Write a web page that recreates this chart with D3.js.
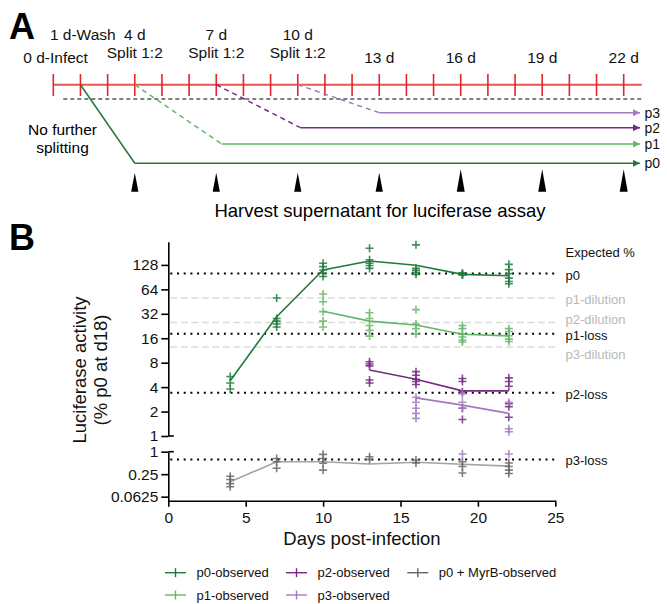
<!DOCTYPE html>
<html><head><meta charset="utf-8">
<script src="https://cdn.jsdelivr.net/npm/d3@7"></script>
<style>body{margin:0;background:#fff}svg text{font-family:"Liberation Sans",Arial,Helvetica,sans-serif}</style>
</head><body><svg id="c" width="667" height="604"></svg>
<script>
// ---------------- DATA ----------------
const days = [4, 7, 10, 13, 16, 19, 22];
const p0Reps = [[5.4, 4.5, 3.8], [50, 28, 26, 24, 22], [134, 122, 111, 101, 92], [205, 148, 134, 126, 116], [226, 116, 110, 104, 98], [102, 99, 97, 96], [130, 112, 100, 88, 80, 75]];
const p0Mean = [4.8, 29.4, 111, 143, 127, 98, 94];
const p1Days = [10, 13, 16, 19, 22];
const p1Reps = [[56, 45, 34, 26, 22], [33, 28, 23, 20, 17], [36, 24, 21, 18], [23, 21, 18, 16.6, 15.2, 14.4], [21, 19.4, 17.2, 15.6, 14.6]];
const p1Mean = [34.4, 26, 23.3, 17.9, 17.1];
const p2Days = [13, 16, 19, 22];
const p2Reps = [[8.2, 7.7, 7.3, 4.9, 4.5], [6.2, 5.6, 5.0, 4.7, 4.3], [5.1, 4.7, 3.5, 2.2, 1.6], [5.2, 4.7, 4.1, 2.5, 2.3, 1.7]];
const p2Mean = [6.5, 5.0, 3.6, 3.6];
const p3Days = [16, 19, 22];
const p3Reps = [[3.0, 2.6, 2.2, 1.9, 1.65], [3.3, 2.6, 2.2, 0.87], [2.6, 1.23, 1.13, 0.87]];
const p3Mean = [2.95, 2.4, 1.9];
const myrbReps = [[0.22, 0.18, 0.14, 0.115], [0.66, 0.54, 0.36], [0.85, 0.66, 0.49, 0.32], [0.73, 0.62], [0.6, 0.5], [0.54, 0.40, 0.27], [0.5, 0.4, 0.32, 0.26]];
const myrbMean = [0.156, 0.54, 0.54, 0.47, 0.52, 0.46, 0.41];

const expectedLabels = ["p0", "p1-dilution", "p2-dilution", "p1-loss", "p3-dilution", "p2-loss", "p3-loss"];
const expectedValues = [100, 50, 25, 18.2, 12.5, 3.4, 0.62];
const expectedKinds = ["loss", "dilution", "dilution", "loss", "dilution", "loss", "loss"];

const xTicks = [0, 5, 10, 15, 20, 25];
const yUpperTicks = [1, 2, 4, 8, 16, 32, 64, 128];
const yLowerTicks = [0.0625, 0.25, 1];

const legendNames = ["p0-observed", "p1-observed", "p2-observed", "p3-observed", "p0 + MyrB-observed"];

// timeline schematic (panel A)
const timelineTickCount = 22;
const timeLabels = ["0 d-Infect", "1 d-Wash", "4 d", "Split 1:2", "7 d", "Split 1:2", "10 d", "Split 1:2", "13 d", "16 d", "19 d", "22 d"];
const timeLabelTick = [0, 1, 3, 3, 6, 6, 9, 9, 12, 15, 18, 21];
const timeLabelRow = ["low", "top", "top", "mid", "top", "mid", "top", "mid", "low", "low", "low", "low"];
const passages = ["p0", "p1", "p2", "p3"];
const passageSplitTick = [1, 3, 6, 9];
const passageSettleTick = [3, 6.2, 9.1, 12];
const harvestTicks = [3, 6, 9, 12, 15, 18, 21];

// ---------------- STYLE ----------------
const col = {p0: "#1f7a3c", p1: "#62b866", p2: "#762a83", p3: "#a27bbf", myrb: "#666666", myrbLine: "#a3a3a3"};
const svg = d3.select("#c");

// ---------------- PANEL A ----------------
const tl = d3.scaleLinear().domain([0, 21]).range([53.3, 623.7]);
const lineY = 84.7;
svg.append("text").attr("x", 9).attr("y", 39).attr("font-size", 36).attr("font-weight", "bold").text("A");

const rowY = {top: 40, mid: 58, low: 63};
svg.append("g").selectAll("text").data(timeLabels).join("text")
  .attr("x", (d, i) => tl(timeLabelTick[i]) + (timeLabelTick[i] < 2 ? 2.3 : 0))
  .attr("y", (d, i) => rowY[timeLabelRow[i]])
  .attr("text-anchor", "middle").attr("font-size", 15.5).attr("fill", "#111").text(d => d);

svg.append("line").attr("x1", tl(0)).attr("x2", 641.7).attr("y1", lineY).attr("y2", lineY)
  .attr("stroke", "#ea5558").attr("stroke-width", 2);
svg.append("g").selectAll("line").data(d3.range(timelineTickCount)).join("line")
  .attr("x1", d => tl(d)).attr("x2", d => tl(d)).attr("y1", 74).attr("y2", 96)
  .attr("stroke", "#e3242b").attr("stroke-width", 1.6);
svg.append("line").attr("x1", 63.3).attr("x2", 641.7).attr("y1", 99).attr("y2", 99)
  .attr("stroke", "#000").attr("stroke-width", 1.2).attr("stroke-dasharray", "4 3");

const defs = svg.append("defs");
passages.forEach(p => {
  defs.append("marker").attr("id", "arr-" + p).attr("viewBox", "0 0 10 10").attr("refX", 10).attr("refY", 5)
    .attr("markerWidth", 9).attr("markerHeight", 7).attr("markerUnits", "userSpaceOnUse").attr("orient", "auto")
    .append("path").attr("d", "M0,0L10,5L0,10Z").attr("fill", col[p]);
});
const levelY = {p0: 163.3, p1: 144, p2: 127.7, p3: 112.7};
const gP = svg.append("g");
passages.forEach((p, i) => {
  const yy = levelY[p];
  gP.append("line").attr("x1", tl(passageSplitTick[i])).attr("y1", lineY)
    .attr("x2", tl(passageSettleTick[i])).attr("y2", yy)
    .attr("stroke", col[p]).attr("stroke-width", 1.5)
    .attr("stroke-dasharray", i === 0 ? null : "5 4");
  gP.append("line").attr("x1", tl(passageSettleTick[i])).attr("y1", yy).attr("x2", 640).attr("y2", yy)
    .attr("stroke", col[p]).attr("stroke-width", 1.5).attr("marker-end", "url(#arr-" + p + ")");
  gP.append("text").attr("x", 644.5).attr("y", yy + 5).attr("font-size", 14).attr("fill", "#111").text(p);
});
svg.append("text").attr("x", 62.5).attr("y", 135).attr("text-anchor", "middle").attr("font-size", 15.5).text("No further");
svg.append("text").attr("x", 62.5).attr("y", 153).attr("text-anchor", "middle").attr("font-size", 15.5).text("splitting");

svg.append("g").selectAll("path").data(harvestTicks).join("path")
  .attr("d", (d, i) => {
    const x0 = tl(d), big = i >= 4, top = big ? 169.3 : 172.7, hw = big ? 4 : 3.6;
    return `M${x0},${top}L${x0 + hw},191.7L${x0 - hw},191.7Z`;
  }).attr("fill", "#000");
svg.append("text").attr("x", 380).attr("y", 217).attr("text-anchor", "middle").attr("font-size", 18.5)
  .text("Harvest supernatant for luciferase assay");

// ---------------- PANEL B ----------------
svg.append("text").attr("x", 9).attr("y", 250).attr("font-size", 36).attr("font-weight", "bold").text("B");

const x = d3.scaleLinear().domain([0, 25]).range([168.3, 555.3]);
const yU = d3.scaleLog().base(2).domain([1, Math.pow(2, 7.95)]).range([436, 241.7]);
const yL = d3.scaleLog().base(2).domain([Math.pow(2, -4.36), 1]).range([500.7, 451.7]);
const y = v => v >= 1 ? yU(v) : yL(v);
const axX = 168.3;

function styleAxis(g) {
  g.selectAll("path.domain").attr("stroke", "#000").attr("stroke-width", 1.6);
  g.selectAll(".tick line").attr("stroke", "#000").attr("stroke-width", 1.6);
  g.selectAll(".tick text").attr("font-size", 15.5).attr("fill", "#111")
    .attr("font-family", '"Liberation Sans", Arial, sans-serif');
}
const gU = svg.append("g").attr("transform", `translate(${axX},0)`)
  .call(d3.axisLeft(yU).tickValues(yUpperTicks).tickFormat(d3.format("d")).tickSize(7).tickSizeOuter(0).tickPadding(3));
styleAxis(gU);
const gL = svg.append("g").attr("transform", `translate(${axX},0)`)
  .call(d3.axisLeft(yL).tickValues(yLowerTicks).tickFormat(d => d === 1 ? "1" : String(d)).tickSize(7).tickSizeOuter(0).tickPadding(3));
styleAxis(gL);
// break caps
[yU(1), yL(1)].forEach(v => svg.append("line").attr("x1", axX).attr("x2", axX + 5.5).attr("y1", v).attr("y2", v)
  .attr("stroke", "#000").attr("stroke-width", 1.6));
const gX = svg.append("g").attr("transform", "translate(0,500.7)")
  .call(d3.axisBottom(x).tickValues(xTicks).tickSize(6).tickSizeOuter(0).tickPadding(5));
styleAxis(gX);

svg.append("text").attr("x", 362).attr("y", 545).attr("text-anchor", "middle").attr("font-size", 18.5).attr("fill", "#111")
  .text("Days post-infection");
svg.append("text").attr("transform", "translate(86,370) rotate(-90)").attr("text-anchor", "middle").attr("font-size", 18.5).attr("fill", "#111")
  .text("Luciferase activity");
svg.append("text").attr("transform", "translate(107,370) rotate(-90)").attr("text-anchor", "middle").attr("font-size", 18.5).attr("fill", "#111")
  .text("(% p0 at d18)");

// expected lines
const gE = svg.append("g");
expectedValues.forEach((v, i) => {
  const yy = y(v), dil = expectedKinds[i] === "dilution";
  gE.append("line").attr("x1", axX + 2).attr("x2", 555).attr("y1", yy).attr("y2", yy)
    .attr("stroke", dil ? "#dcdcdc" : "#000").attr("stroke-width", dil ? 1.5 : 2)
    .attr("stroke-dasharray", dil ? "7 3.5" : "2 4.7");
});
const labelNudge = {"p2-dilution": -4.5, "p3-dilution": 6};
svg.append("text").attr("x", 565.5).attr("y", 256.5).attr("font-size", 13).attr("fill", "#111").text("Expected %");
expectedLabels.forEach((l, i) => {
  svg.append("text").attr("x", 565.5).attr("y", y(expectedValues[i]) + 1.3 + (labelNudge[l] || 0) + 4.6)
    .attr("font-size", 13).attr("fill", expectedKinds[i] === "dilution" ? "#b9b9b9" : "#111").text(l);
});

// series
const series = [
  {key: "myrb", d: days, reps: myrbReps, mean: myrbMean, line: col.myrbLine},
  {key: "p0", d: days, reps: p0Reps, mean: p0Mean, line: col.p0},
  {key: "p1", d: p1Days, reps: p1Reps, mean: p1Mean, line: col.p1},
  {key: "p2", d: p2Days, reps: p2Reps, mean: p2Mean, line: col.p2},
  {key: "p3", d: p3Days, reps: p3Reps, mean: p3Mean, line: col.p3}
];
const lineGen = d3.line().x(d => x(d[0])).y(d => y(d[1]));
const cross = "M-4,0H4M0,-4V4";
series.forEach(s => {
  svg.append("path").datum(s.d.map((dd, i) => [dd, s.mean[i]])).attr("d", lineGen)
    .attr("fill", "none").attr("stroke", s.line).attr("stroke-width", 1.6);
  const pts = [];
  s.d.forEach((dd, i) => s.reps[i].forEach(v => pts.push([dd, v])));
  svg.append("g").selectAll("path").data(pts).join("path")
    .attr("transform", p => `translate(${x(p[0])},${y(p[1])})`).attr("d", cross)
    .attr("stroke", col[s.key]).attr("stroke-width", 1.6).attr("fill", "none").attr("opacity", 0.85);
});

// legend
const legCol = {"p0-observed": col.p0, "p1-observed": col.p1, "p2-observed": col.p2, "p3-observed": col.p3, "p0 + MyrB-observed": col.myrb};
const legPos = [[165, 572.7], [165, 595], [286, 572.7], [286, 595], [407.3, 572.7]];
legendNames.forEach((n, i) => {
  const [lx, ly] = legPos[i];
  const g = svg.append("g").attr("transform", `translate(${lx},${ly})`);
  g.append("line").attr("x1", 0).attr("x2", 21).attr("y1", 0).attr("y2", 0).attr("stroke", legCol[n]).attr("stroke-width", 1.4);
  g.append("line").attr("x1", 10.5).attr("x2", 10.5).attr("y1", -4.5).attr("y2", 4.5).attr("stroke", legCol[n]).attr("stroke-width", 1.4);
  g.append("text").attr("x", 31.5).attr("y", 4.6).attr("font-size", 13).attr("fill", "#111").text(n);
});
</script></body></html>
